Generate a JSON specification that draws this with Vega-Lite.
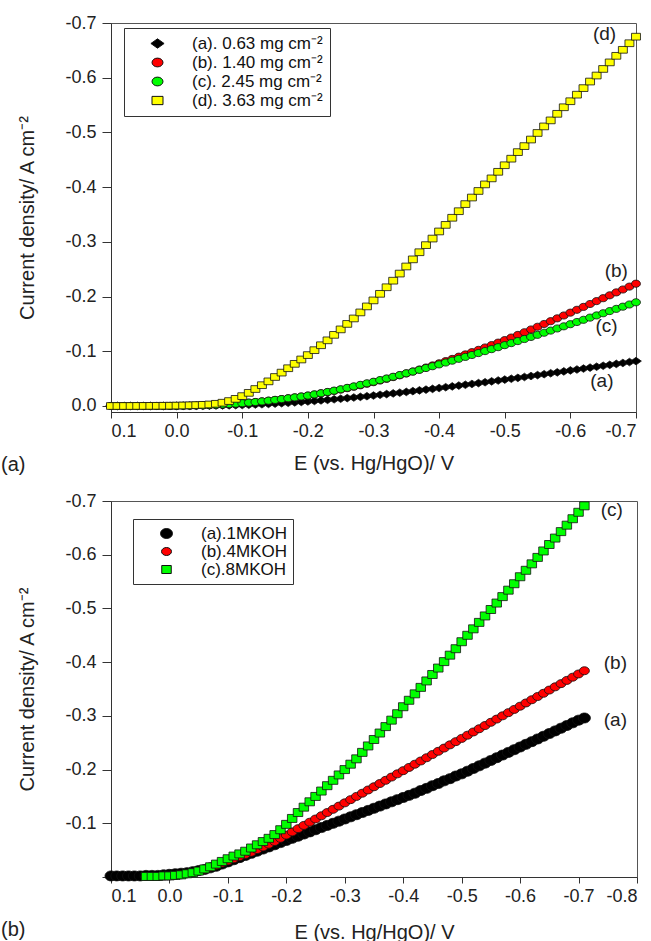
{
"$schema": "https://vega.github.io/schema/vega-lite/v6.json",
"background": "white",
"padding": {"left": 0, "top": 13, "right": 5, "bottom": 0},
"spacing": 15,
"resolve": {"scale": {"color": "independent", "shape": "independent"}, "legend": {"color": "independent", "shape": "independent"}},
"config": {
  "font": "Liberation Sans",
  "view": {"stroke": "#555", "strokeWidth": 1},
  "axis": {"labelFont": "Liberation Sans", "labelFontSize": 18, "labelColor": "#222", "titleFont": "Liberation Sans", "titleFontSize": 20, "titleFontWeight": "normal", "titleColor": "#222", "domainColor": "#333", "tickColor": "#333", "grid": false},
  "legend": {"labelFont": "Liberation Sans", "labelFontSize": 17, "labelColor": "#111"},
  "title": {"font": "Liberation Sans", "fontSize": 20, "fontWeight": "normal", "color": "#222"}
},
"datasets": {
"A": [
{"E":0.1,"j":0,"s":"a"},{"E":0.09,"j":0,"s":"a"},{"E":0.08,"j":0,"s":"a"},{"E":0.07,"j":0,"s":"a"},{"E":0.06,"j":0,"s":"a"},{"E":0.05,"j":0,"s":"a"},{"E":0.04,"j":0,"s":"a"},{"E":0.03,"j":0,"s":"a"},{"E":0.02,"j":0,"s":"a"},{"E":0.01,"j":0,"s":"a"},{"E":0,"j":0,"s":"a"},
{"E":-0.01,"j":-0.0002,"s":"a"},{"E":-0.02,"j":-0.0003,"s":"a"},{"E":-0.03,"j":-0.0004,"s":"a"},{"E":-0.04,"j":-0.0005,"s":"a"},{"E":-0.05,"j":-0.0006,"s":"a"},{"E":-0.06,"j":-0.0008,"s":"a"},{"E":-0.07,"j":-0.001,"s":"a"},{"E":-0.08,"j":-0.0012,"s":"a"},{"E":-0.09,"j":-0.0015,"s":"a"},{"E":-0.1,"j":-0.0018,"s":"a"},
{"E":-0.11,"j":-0.0022,"s":"a"},{"E":-0.12,"j":-0.0027,"s":"a"},{"E":-0.13,"j":-0.0032,"s":"a"},{"E":-0.14,"j":-0.0038,"s":"a"},{"E":-0.15,"j":-0.0044,"s":"a"},{"E":-0.16,"j":-0.0051,"s":"a"},{"E":-0.17,"j":-0.0058,"s":"a"},{"E":-0.18,"j":-0.0066,"s":"a"},{"E":-0.19,"j":-0.0074,"s":"a"},{"E":-0.2,"j":-0.0083,"s":"a"},
{"E":-0.21,"j":-0.0092,"s":"a"},{"E":-0.22,"j":-0.0102,"s":"a"},{"E":-0.23,"j":-0.0112,"s":"a"},{"E":-0.24,"j":-0.0122,"s":"a"},{"E":-0.25,"j":-0.0133,"s":"a"},{"E":-0.26,"j":-0.0144,"s":"a"},{"E":-0.27,"j":-0.0155,"s":"a"},{"E":-0.28,"j":-0.0167,"s":"a"},{"E":-0.29,"j":-0.0179,"s":"a"},{"E":-0.3,"j":-0.0191,"s":"a"},
{"E":-0.31,"j":-0.0204,"s":"a"},{"E":-0.32,"j":-0.0217,"s":"a"},{"E":-0.33,"j":-0.023,"s":"a"},{"E":-0.34,"j":-0.0243,"s":"a"},{"E":-0.35,"j":-0.0257,"s":"a"},{"E":-0.36,"j":-0.0271,"s":"a"},{"E":-0.37,"j":-0.0285,"s":"a"},{"E":-0.38,"j":-0.0299,"s":"a"},{"E":-0.39,"j":-0.0313,"s":"a"},{"E":-0.4,"j":-0.0328,"s":"a"},
{"E":-0.41,"j":-0.0343,"s":"a"},{"E":-0.42,"j":-0.0358,"s":"a"},{"E":-0.43,"j":-0.0373,"s":"a"},{"E":-0.44,"j":-0.0388,"s":"a"},{"E":-0.45,"j":-0.0403,"s":"a"},{"E":-0.46,"j":-0.0418,"s":"a"},{"E":-0.47,"j":-0.0434,"s":"a"},{"E":-0.48,"j":-0.045,"s":"a"},{"E":-0.49,"j":-0.0466,"s":"a"},{"E":-0.5,"j":-0.0482,"s":"a"},
{"E":-0.51,"j":-0.0498,"s":"a"},{"E":-0.52,"j":-0.0514,"s":"a"},{"E":-0.53,"j":-0.053,"s":"a"},{"E":-0.54,"j":-0.0547,"s":"a"},{"E":-0.55,"j":-0.0564,"s":"a"},{"E":-0.56,"j":-0.0581,"s":"a"},{"E":-0.57,"j":-0.0598,"s":"a"},{"E":-0.58,"j":-0.0615,"s":"a"},{"E":-0.59,"j":-0.0632,"s":"a"},{"E":-0.6,"j":-0.065,"s":"a"},
{"E":-0.61,"j":-0.0667,"s":"a"},{"E":-0.62,"j":-0.0684,"s":"a"},{"E":-0.63,"j":-0.0701,"s":"a"},{"E":-0.64,"j":-0.0718,"s":"a"},{"E":-0.65,"j":-0.0735,"s":"a"},{"E":-0.66,"j":-0.0752,"s":"a"},{"E":-0.67,"j":-0.0769,"s":"a"},{"E":-0.68,"j":-0.0786,"s":"a"},{"E":-0.69,"j":-0.0803,"s":"a"},{"E":-0.7,"j":-0.082,"s":"a"},

{"E":0.1,"j":0,"s":"b"},{"E":0.09,"j":0,"s":"b"},{"E":0.08,"j":0,"s":"b"},{"E":0.07,"j":0,"s":"b"},{"E":0.06,"j":0,"s":"b"},{"E":0.05,"j":0,"s":"b"},{"E":0.04,"j":0,"s":"b"},{"E":0.03,"j":0,"s":"b"},{"E":0.02,"j":0,"s":"b"},{"E":0.01,"j":-0.0001,"s":"b"},{"E":0,"j":-0.0002,"s":"b"},
{"E":-0.01,"j":-0.0004,"s":"b"},{"E":-0.02,"j":-0.0006,"s":"b"},{"E":-0.03,"j":-0.0009,"s":"b"},{"E":-0.04,"j":-0.0012,"s":"b"},{"E":-0.05,"j":-0.0016,"s":"b"},{"E":-0.06,"j":-0.0021,"s":"b"},{"E":-0.07,"j":-0.0027,"s":"b"},{"E":-0.08,"j":-0.0034,"s":"b"},{"E":-0.09,"j":-0.0042,"s":"b"},{"E":-0.1,"j":-0.0051,"s":"b"},
{"E":-0.11,"j":-0.0061,"s":"b"},{"E":-0.12,"j":-0.0072,"s":"b"},{"E":-0.13,"j":-0.0084,"s":"b"},{"E":-0.14,"j":-0.0097,"s":"b"},{"E":-0.15,"j":-0.0111,"s":"b"},{"E":-0.16,"j":-0.0126,"s":"b"},{"E":-0.17,"j":-0.0141,"s":"b"},{"E":-0.18,"j":-0.0157,"s":"b"},{"E":-0.19,"j":-0.0173,"s":"b"},{"E":-0.2,"j":-0.019,"s":"b"},
{"E":-0.21,"j":-0.021,"s":"b"},{"E":-0.22,"j":-0.0231,"s":"b"},{"E":-0.23,"j":-0.0253,"s":"b"},{"E":-0.24,"j":-0.0276,"s":"b"},{"E":-0.25,"j":-0.03,"s":"b"},{"E":-0.26,"j":-0.0325,"s":"b"},{"E":-0.27,"j":-0.0351,"s":"b"},{"E":-0.28,"j":-0.0378,"s":"b"},{"E":-0.29,"j":-0.0406,"s":"b"},{"E":-0.3,"j":-0.0435,"s":"b"},
{"E":-0.31,"j":-0.0465,"s":"b"},{"E":-0.32,"j":-0.0496,"s":"b"},{"E":-0.33,"j":-0.0528,"s":"b"},{"E":-0.34,"j":-0.0561,"s":"b"},{"E":-0.35,"j":-0.0595,"s":"b"},{"E":-0.36,"j":-0.063,"s":"b"},{"E":-0.37,"j":-0.0666,"s":"b"},{"E":-0.38,"j":-0.0703,"s":"b"},{"E":-0.39,"j":-0.0741,"s":"b"},{"E":-0.4,"j":-0.078,"s":"b"},
{"E":-0.41,"j":-0.082,"s":"b"},{"E":-0.42,"j":-0.086,"s":"b"},{"E":-0.43,"j":-0.0901,"s":"b"},{"E":-0.44,"j":-0.0942,"s":"b"},{"E":-0.45,"j":-0.0984,"s":"b"},{"E":-0.46,"j":-0.1026,"s":"b"},{"E":-0.47,"j":-0.1069,"s":"b"},{"E":-0.48,"j":-0.1113,"s":"b"},{"E":-0.49,"j":-0.1158,"s":"b"},{"E":-0.5,"j":-0.1204,"s":"b"},
{"E":-0.51,"j":-0.1251,"s":"b"},{"E":-0.52,"j":-0.1299,"s":"b"},{"E":-0.53,"j":-0.1348,"s":"b"},{"E":-0.54,"j":-0.1398,"s":"b"},{"E":-0.55,"j":-0.1448,"s":"b"},{"E":-0.56,"j":-0.1499,"s":"b"},{"E":-0.57,"j":-0.155,"s":"b"},{"E":-0.58,"j":-0.1602,"s":"b"},{"E":-0.59,"j":-0.1654,"s":"b"},{"E":-0.6,"j":-0.1706,"s":"b"},
{"E":-0.61,"j":-0.1758,"s":"b"},{"E":-0.62,"j":-0.1811,"s":"b"},{"E":-0.63,"j":-0.1864,"s":"b"},{"E":-0.64,"j":-0.1917,"s":"b"},{"E":-0.65,"j":-0.197,"s":"b"},{"E":-0.66,"j":-0.2023,"s":"b"},{"E":-0.67,"j":-0.2076,"s":"b"},{"E":-0.68,"j":-0.2129,"s":"b"},{"E":-0.69,"j":-0.2182,"s":"b"},{"E":-0.7,"j":-0.2235,"s":"b"},

{"E":0.1,"j":0,"s":"c"},{"E":0.09,"j":0,"s":"c"},{"E":0.08,"j":0,"s":"c"},{"E":0.07,"j":0,"s":"c"},{"E":0.06,"j":0,"s":"c"},{"E":0.05,"j":0,"s":"c"},{"E":0.04,"j":0,"s":"c"},{"E":0.03,"j":0,"s":"c"},{"E":0.02,"j":0,"s":"c"},{"E":0.01,"j":-0.0001,"s":"c"},{"E":0,"j":-0.0002,"s":"c"},
{"E":-0.01,"j":-0.0004,"s":"c"},{"E":-0.02,"j":-0.0006,"s":"c"},{"E":-0.03,"j":-0.0009,"s":"c"},{"E":-0.04,"j":-0.0012,"s":"c"},{"E":-0.05,"j":-0.0016,"s":"c"},{"E":-0.06,"j":-0.0021,"s":"c"},{"E":-0.07,"j":-0.0027,"s":"c"},{"E":-0.08,"j":-0.0034,"s":"c"},{"E":-0.09,"j":-0.0042,"s":"c"},{"E":-0.1,"j":-0.0051,"s":"c"},
{"E":-0.11,"j":-0.0061,"s":"c"},{"E":-0.12,"j":-0.0072,"s":"c"},{"E":-0.13,"j":-0.0084,"s":"c"},{"E":-0.14,"j":-0.0097,"s":"c"},{"E":-0.15,"j":-0.0111,"s":"c"},{"E":-0.16,"j":-0.0126,"s":"c"},{"E":-0.17,"j":-0.0141,"s":"c"},{"E":-0.18,"j":-0.0157,"s":"c"},{"E":-0.19,"j":-0.0173,"s":"c"},{"E":-0.2,"j":-0.019,"s":"c"},
{"E":-0.21,"j":-0.0211,"s":"c"},{"E":-0.22,"j":-0.0233,"s":"c"},{"E":-0.23,"j":-0.0256,"s":"c"},{"E":-0.24,"j":-0.028,"s":"c"},{"E":-0.25,"j":-0.0305,"s":"c"},{"E":-0.26,"j":-0.0331,"s":"c"},{"E":-0.27,"j":-0.0358,"s":"c"},{"E":-0.28,"j":-0.0386,"s":"c"},{"E":-0.29,"j":-0.0414,"s":"c"},{"E":-0.3,"j":-0.0443,"s":"c"},
{"E":-0.31,"j":-0.0473,"s":"c"},{"E":-0.32,"j":-0.0503,"s":"c"},{"E":-0.33,"j":-0.0534,"s":"c"},{"E":-0.34,"j":-0.0565,"s":"c"},{"E":-0.35,"j":-0.0597,"s":"c"},{"E":-0.36,"j":-0.0629,"s":"c"},{"E":-0.37,"j":-0.0661,"s":"c"},{"E":-0.38,"j":-0.0694,"s":"c"},{"E":-0.39,"j":-0.0727,"s":"c"},{"E":-0.4,"j":-0.076,"s":"c"},
{"E":-0.41,"j":-0.0794,"s":"c"},{"E":-0.42,"j":-0.0828,"s":"c"},{"E":-0.43,"j":-0.0862,"s":"c"},{"E":-0.44,"j":-0.0897,"s":"c"},{"E":-0.45,"j":-0.0932,"s":"c"},{"E":-0.46,"j":-0.0967,"s":"c"},{"E":-0.47,"j":-0.1003,"s":"c"},{"E":-0.48,"j":-0.1039,"s":"c"},{"E":-0.49,"j":-0.1075,"s":"c"},{"E":-0.5,"j":-0.1112,"s":"c"},
{"E":-0.51,"j":-0.1149,"s":"c"},{"E":-0.52,"j":-0.1186,"s":"c"},{"E":-0.53,"j":-0.1224,"s":"c"},{"E":-0.54,"j":-0.1262,"s":"c"},{"E":-0.55,"j":-0.13,"s":"c"},{"E":-0.56,"j":-0.1339,"s":"c"},{"E":-0.57,"j":-0.1378,"s":"c"},{"E":-0.58,"j":-0.1417,"s":"c"},{"E":-0.59,"j":-0.1456,"s":"c"},{"E":-0.6,"j":-0.1495,"s":"c"},
{"E":-0.61,"j":-0.1535,"s":"c"},{"E":-0.62,"j":-0.1575,"s":"c"},{"E":-0.63,"j":-0.1615,"s":"c"},{"E":-0.64,"j":-0.1655,"s":"c"},{"E":-0.65,"j":-0.1695,"s":"c"},{"E":-0.66,"j":-0.1735,"s":"c"},{"E":-0.67,"j":-0.1775,"s":"c"},{"E":-0.68,"j":-0.1815,"s":"c"},{"E":-0.69,"j":-0.1855,"s":"c"},{"E":-0.7,"j":-0.1895,"s":"c"},

{"E":0.1,"j":0,"s":"d"},{"E":0.09,"j":0,"s":"d"},{"E":0.08,"j":0,"s":"d"},{"E":0.07,"j":0,"s":"d"},{"E":0.06,"j":-0.0001,"s":"d"},{"E":0.05,"j":-0.0001,"s":"d"},{"E":0.04,"j":-0.0002,"s":"d"},{"E":0.03,"j":-0.0003,"s":"d"},{"E":0.02,"j":-0.0004,"s":"d"},{"E":0.01,"j":-0.0005,"s":"d"},{"E":0,"j":-0.0007,"s":"d"},
{"E":-0.01,"j":-0.0009,"s":"d"},{"E":-0.02,"j":-0.0012,"s":"d"},{"E":-0.03,"j":-0.0016,"s":"d"},{"E":-0.04,"j":-0.0021,"s":"d"},{"E":-0.05,"j":-0.0028,"s":"d"},{"E":-0.06,"j":-0.004,"s":"d"},{"E":-0.07,"j":-0.006,"s":"d"},{"E":-0.08,"j":-0.009,"s":"d"},{"E":-0.09,"j":-0.013,"s":"d"},{"E":-0.1,"j":-0.018,"s":"d"},
{"E":-0.11,"j":-0.024,"s":"d"},{"E":-0.12,"j":-0.031,"s":"d"},{"E":-0.13,"j":-0.038,"s":"d"},{"E":-0.14,"j":-0.045,"s":"d"},{"E":-0.15,"j":-0.053,"s":"d"},{"E":-0.16,"j":-0.061,"s":"d"},{"E":-0.17,"j":-0.069,"s":"d"},{"E":-0.18,"j":-0.077,"s":"d"},{"E":-0.19,"j":-0.085,"s":"d"},{"E":-0.2,"j":-0.093,"s":"d"},
{"E":-0.21,"j":-0.102,"s":"d"},{"E":-0.22,"j":-0.111,"s":"d"},{"E":-0.23,"j":-0.12,"s":"d"},{"E":-0.24,"j":-0.13,"s":"d"},{"E":-0.25,"j":-0.14,"s":"d"},{"E":-0.26,"j":-0.15,"s":"d"},{"E":-0.27,"j":-0.16,"s":"d"},{"E":-0.28,"j":-0.171,"s":"d"},{"E":-0.29,"j":-0.182,"s":"d"},{"E":-0.3,"j":-0.193,"s":"d"},
{"E":-0.31,"j":-0.205,"s":"d"},{"E":-0.32,"j":-0.217,"s":"d"},{"E":-0.33,"j":-0.229,"s":"d"},{"E":-0.34,"j":-0.242,"s":"d"},{"E":-0.35,"j":-0.255,"s":"d"},{"E":-0.36,"j":-0.268,"s":"d"},{"E":-0.37,"j":-0.281,"s":"d"},{"E":-0.38,"j":-0.294,"s":"d"},{"E":-0.39,"j":-0.306,"s":"d"},{"E":-0.4,"j":-0.319,"s":"d"},
{"E":-0.41,"j":-0.331,"s":"d"},{"E":-0.42,"j":-0.344,"s":"d"},{"E":-0.43,"j":-0.356,"s":"d"},{"E":-0.44,"j":-0.369,"s":"d"},{"E":-0.45,"j":-0.381,"s":"d"},{"E":-0.46,"j":-0.393,"s":"d"},{"E":-0.47,"j":-0.405,"s":"d"},{"E":-0.48,"j":-0.416,"s":"d"},{"E":-0.49,"j":-0.428,"s":"d"},{"E":-0.5,"j":-0.44,"s":"d"},
{"E":-0.51,"j":-0.452,"s":"d"},{"E":-0.52,"j":-0.464,"s":"d"},{"E":-0.53,"j":-0.475,"s":"d"},{"E":-0.54,"j":-0.487,"s":"d"},{"E":-0.55,"j":-0.499,"s":"d"},{"E":-0.56,"j":-0.511,"s":"d"},{"E":-0.57,"j":-0.522,"s":"d"},{"E":-0.58,"j":-0.534,"s":"d"},{"E":-0.59,"j":-0.546,"s":"d"},{"E":-0.6,"j":-0.557,"s":"d"},
{"E":-0.61,"j":-0.569,"s":"d"},{"E":-0.62,"j":-0.581,"s":"d"},{"E":-0.63,"j":-0.593,"s":"d"},{"E":-0.64,"j":-0.604,"s":"d"},{"E":-0.65,"j":-0.616,"s":"d"},{"E":-0.66,"j":-0.628,"s":"d"},{"E":-0.67,"j":-0.64,"s":"d"},{"E":-0.68,"j":-0.651,"s":"d"},{"E":-0.69,"j":-0.663,"s":"d"},{"E":-0.7,"j":-0.675,"s":"d"}
],
"B": [
{"E":0.1,"j":-0.002,"s":"a"},{"E":0.09,"j":-0.002,"s":"a"},{"E":0.08,"j":-0.002,"s":"a"},{"E":0.07,"j":-0.002,"s":"a"},{"E":0.06,"j":-0.002,"s":"a"},{"E":0.05,"j":-0.002,"s":"a"},{"E":0.04,"j":-0.003,"s":"a"},{"E":0.03,"j":-0.003,"s":"a"},{"E":0.02,"j":-0.003,"s":"a"},{"E":0.01,"j":-0.004,"s":"a"},{"E":0,"j":-0.005,"s":"a"},
{"E":-0.01,"j":-0.006,"s":"a"},{"E":-0.02,"j":-0.007,"s":"a"},{"E":-0.03,"j":-0.008,"s":"a"},{"E":-0.04,"j":-0.01,"s":"a"},{"E":-0.05,"j":-0.012,"s":"a"},{"E":-0.06,"j":-0.014,"s":"a"},{"E":-0.07,"j":-0.017,"s":"a"},{"E":-0.08,"j":-0.02,"s":"a"},{"E":-0.09,"j":-0.024,"s":"a"},{"E":-0.1,"j":-0.028,"s":"a"},
{"E":-0.11,"j":-0.032,"s":"a"},{"E":-0.12,"j":-0.036,"s":"a"},{"E":-0.13,"j":-0.04,"s":"a"},{"E":-0.14,"j":-0.044,"s":"a"},{"E":-0.15,"j":-0.048,"s":"a"},{"E":-0.16,"j":-0.052,"s":"a"},{"E":-0.17,"j":-0.056,"s":"a"},{"E":-0.18,"j":-0.06,"s":"a"},{"E":-0.19,"j":-0.064,"s":"a"},{"E":-0.2,"j":-0.068,"s":"a"},
{"E":-0.21,"j":-0.072,"s":"a"},{"E":-0.22,"j":-0.076,"s":"a"},{"E":-0.23,"j":-0.08,"s":"a"},{"E":-0.24,"j":-0.084,"s":"a"},{"E":-0.25,"j":-0.088,"s":"a"},{"E":-0.26,"j":-0.092,"s":"a"},{"E":-0.27,"j":-0.096,"s":"a"},{"E":-0.28,"j":-0.1,"s":"a"},{"E":-0.29,"j":-0.104,"s":"a"},{"E":-0.3,"j":-0.108,"s":"a"},
{"E":-0.31,"j":-0.112,"s":"a"},{"E":-0.32,"j":-0.116,"s":"a"},{"E":-0.33,"j":-0.12,"s":"a"},{"E":-0.34,"j":-0.124,"s":"a"},{"E":-0.35,"j":-0.128,"s":"a"},{"E":-0.36,"j":-0.132,"s":"a"},{"E":-0.37,"j":-0.136,"s":"a"},{"E":-0.38,"j":-0.14,"s":"a"},{"E":-0.39,"j":-0.144,"s":"a"},{"E":-0.4,"j":-0.148,"s":"a"},
{"E":-0.41,"j":-0.152,"s":"a"},{"E":-0.42,"j":-0.156,"s":"a"},{"E":-0.43,"j":-0.161,"s":"a"},{"E":-0.44,"j":-0.165,"s":"a"},{"E":-0.45,"j":-0.17,"s":"a"},{"E":-0.46,"j":-0.174,"s":"a"},{"E":-0.47,"j":-0.179,"s":"a"},{"E":-0.48,"j":-0.183,"s":"a"},{"E":-0.49,"j":-0.188,"s":"a"},{"E":-0.5,"j":-0.192,"s":"a"},
{"E":-0.51,"j":-0.197,"s":"a"},{"E":-0.52,"j":-0.202,"s":"a"},{"E":-0.53,"j":-0.207,"s":"a"},{"E":-0.54,"j":-0.212,"s":"a"},{"E":-0.55,"j":-0.217,"s":"a"},{"E":-0.56,"j":-0.222,"s":"a"},{"E":-0.57,"j":-0.227,"s":"a"},{"E":-0.58,"j":-0.232,"s":"a"},{"E":-0.59,"j":-0.237,"s":"a"},{"E":-0.6,"j":-0.242,"s":"a"},
{"E":-0.61,"j":-0.247,"s":"a"},{"E":-0.62,"j":-0.252,"s":"a"},{"E":-0.63,"j":-0.257,"s":"a"},{"E":-0.64,"j":-0.262,"s":"a"},{"E":-0.65,"j":-0.267,"s":"a"},{"E":-0.66,"j":-0.272,"s":"a"},{"E":-0.67,"j":-0.277,"s":"a"},{"E":-0.68,"j":-0.282,"s":"a"},{"E":-0.69,"j":-0.287,"s":"a"},{"E":-0.7,"j":-0.292,"s":"a"},{"E":-0.71,"j":-0.296,"s":"a"},

{"E":0.04,"j":-0.001,"s":"b"},{"E":0.03,"j":-0.001,"s":"b"},{"E":0.02,"j":-0.001,"s":"b"},{"E":0.01,"j":-0.002,"s":"b"},{"E":0,"j":-0.002,"s":"b"},
{"E":-0.01,"j":-0.003,"s":"b"},{"E":-0.02,"j":-0.004,"s":"b"},{"E":-0.03,"j":-0.006,"s":"b"},{"E":-0.04,"j":-0.008,"s":"b"},{"E":-0.05,"j":-0.011,"s":"b"},{"E":-0.06,"j":-0.014,"s":"b"},{"E":-0.07,"j":-0.018,"s":"b"},{"E":-0.08,"j":-0.022,"s":"b"},{"E":-0.09,"j":-0.026,"s":"b"},{"E":-0.1,"j":-0.03,"s":"b"},
{"E":-0.11,"j":-0.034,"s":"b"},{"E":-0.12,"j":-0.038,"s":"b"},{"E":-0.13,"j":-0.042,"s":"b"},{"E":-0.14,"j":-0.046,"s":"b"},{"E":-0.15,"j":-0.051,"s":"b"},{"E":-0.16,"j":-0.056,"s":"b"},{"E":-0.17,"j":-0.061,"s":"b"},{"E":-0.18,"j":-0.066,"s":"b"},{"E":-0.19,"j":-0.072,"s":"b"},{"E":-0.2,"j":-0.078,"s":"b"},
{"E":-0.21,"j":-0.084,"s":"b"},{"E":-0.22,"j":-0.09,"s":"b"},{"E":-0.23,"j":-0.096,"s":"b"},{"E":-0.24,"j":-0.102,"s":"b"},{"E":-0.25,"j":-0.108,"s":"b"},{"E":-0.26,"j":-0.114,"s":"b"},{"E":-0.27,"j":-0.12,"s":"b"},{"E":-0.28,"j":-0.126,"s":"b"},{"E":-0.29,"j":-0.132,"s":"b"},{"E":-0.3,"j":-0.138,"s":"b"},
{"E":-0.31,"j":-0.144,"s":"b"},{"E":-0.32,"j":-0.15,"s":"b"},{"E":-0.33,"j":-0.156,"s":"b"},{"E":-0.34,"j":-0.162,"s":"b"},{"E":-0.35,"j":-0.168,"s":"b"},{"E":-0.36,"j":-0.174,"s":"b"},{"E":-0.37,"j":-0.18,"s":"b"},{"E":-0.38,"j":-0.186,"s":"b"},{"E":-0.39,"j":-0.192,"s":"b"},{"E":-0.4,"j":-0.198,"s":"b"},
{"E":-0.41,"j":-0.204,"s":"b"},{"E":-0.42,"j":-0.21,"s":"b"},{"E":-0.43,"j":-0.216,"s":"b"},{"E":-0.44,"j":-0.222,"s":"b"},{"E":-0.45,"j":-0.228,"s":"b"},{"E":-0.46,"j":-0.234,"s":"b"},{"E":-0.47,"j":-0.24,"s":"b"},{"E":-0.48,"j":-0.246,"s":"b"},{"E":-0.49,"j":-0.252,"s":"b"},{"E":-0.5,"j":-0.258,"s":"b"},
{"E":-0.51,"j":-0.264,"s":"b"},{"E":-0.52,"j":-0.27,"s":"b"},{"E":-0.53,"j":-0.276,"s":"b"},{"E":-0.54,"j":-0.282,"s":"b"},{"E":-0.55,"j":-0.288,"s":"b"},{"E":-0.56,"j":-0.294,"s":"b"},{"E":-0.57,"j":-0.3,"s":"b"},{"E":-0.58,"j":-0.306,"s":"b"},{"E":-0.59,"j":-0.312,"s":"b"},{"E":-0.6,"j":-0.318,"s":"b"},
{"E":-0.61,"j":-0.324,"s":"b"},{"E":-0.62,"j":-0.33,"s":"b"},{"E":-0.63,"j":-0.336,"s":"b"},{"E":-0.64,"j":-0.342,"s":"b"},{"E":-0.65,"j":-0.348,"s":"b"},{"E":-0.66,"j":-0.354,"s":"b"},{"E":-0.67,"j":-0.36,"s":"b"},{"E":-0.68,"j":-0.366,"s":"b"},{"E":-0.69,"j":-0.372,"s":"b"},{"E":-0.7,"j":-0.378,"s":"b"},{"E":-0.71,"j":-0.384,"s":"b"},

{"E":0.04,"j":-0.001,"s":"c"},{"E":0.03,"j":-0.001,"s":"c"},{"E":0.02,"j":-0.001,"s":"c"},{"E":0.01,"j":-0.002,"s":"c"},{"E":0,"j":-0.002,"s":"c"},
{"E":-0.01,"j":-0.003,"s":"c"},{"E":-0.02,"j":-0.004,"s":"c"},{"E":-0.03,"j":-0.006,"s":"c"},{"E":-0.04,"j":-0.008,"s":"c"},{"E":-0.05,"j":-0.011,"s":"c"},{"E":-0.06,"j":-0.015,"s":"c"},{"E":-0.07,"j":-0.019,"s":"c"},{"E":-0.08,"j":-0.024,"s":"c"},{"E":-0.09,"j":-0.029,"s":"c"},{"E":-0.1,"j":-0.034,"s":"c"},
{"E":-0.11,"j":-0.039,"s":"c"},{"E":-0.12,"j":-0.043,"s":"c"},{"E":-0.13,"j":-0.048,"s":"c"},{"E":-0.14,"j":-0.054,"s":"c"},{"E":-0.15,"j":-0.06,"s":"c"},{"E":-0.16,"j":-0.066,"s":"c"},{"E":-0.17,"j":-0.072,"s":"c"},{"E":-0.18,"j":-0.079,"s":"c"},{"E":-0.19,"j":-0.088,"s":"c"},{"E":-0.2,"j":-0.098,"s":"c"},
{"E":-0.21,"j":-0.109,"s":"c"},{"E":-0.22,"j":-0.12,"s":"c"},{"E":-0.23,"j":-0.13,"s":"c"},{"E":-0.24,"j":-0.14,"s":"c"},{"E":-0.25,"j":-0.15,"s":"c"},{"E":-0.26,"j":-0.16,"s":"c"},{"E":-0.27,"j":-0.17,"s":"c"},{"E":-0.28,"j":-0.18,"s":"c"},{"E":-0.29,"j":-0.19,"s":"c"},{"E":-0.3,"j":-0.2,"s":"c"},
{"E":-0.31,"j":-0.21,"s":"c"},{"E":-0.32,"j":-0.22,"s":"c"},{"E":-0.33,"j":-0.232,"s":"c"},{"E":-0.34,"j":-0.244,"s":"c"},{"E":-0.35,"j":-0.256,"s":"c"},{"E":-0.36,"j":-0.268,"s":"c"},{"E":-0.37,"j":-0.28,"s":"c"},{"E":-0.38,"j":-0.292,"s":"c"},{"E":-0.39,"j":-0.304,"s":"c"},{"E":-0.4,"j":-0.317,"s":"c"},
{"E":-0.41,"j":-0.329,"s":"c"},{"E":-0.42,"j":-0.341,"s":"c"},{"E":-0.43,"j":-0.353,"s":"c"},{"E":-0.44,"j":-0.365,"s":"c"},{"E":-0.45,"j":-0.377,"s":"c"},{"E":-0.46,"j":-0.389,"s":"c"},{"E":-0.47,"j":-0.401,"s":"c"},{"E":-0.48,"j":-0.413,"s":"c"},{"E":-0.49,"j":-0.425,"s":"c"},{"E":-0.5,"j":-0.438,"s":"c"},
{"E":-0.51,"j":-0.45,"s":"c"},{"E":-0.52,"j":-0.462,"s":"c"},{"E":-0.53,"j":-0.474,"s":"c"},{"E":-0.54,"j":-0.486,"s":"c"},{"E":-0.55,"j":-0.498,"s":"c"},{"E":-0.56,"j":-0.51,"s":"c"},{"E":-0.57,"j":-0.522,"s":"c"},{"E":-0.58,"j":-0.534,"s":"c"},{"E":-0.59,"j":-0.546,"s":"c"},{"E":-0.6,"j":-0.559,"s":"c"},
{"E":-0.61,"j":-0.571,"s":"c"},{"E":-0.62,"j":-0.583,"s":"c"},{"E":-0.63,"j":-0.595,"s":"c"},{"E":-0.64,"j":-0.607,"s":"c"},{"E":-0.65,"j":-0.619,"s":"c"},{"E":-0.66,"j":-0.631,"s":"c"},{"E":-0.67,"j":-0.643,"s":"c"},{"E":-0.68,"j":-0.655,"s":"c"},{"E":-0.69,"j":-0.667,"s":"c"},{"E":-0.7,"j":-0.679,"s":"c"},{"E":-0.71,"j":-0.691,"s":"c"}
],
"labA": [
{"E":-0.652,"j":-0.68,"t":"(d)"},{"E":-0.67,"j":-0.247,"t":"(b)"},{"E":-0.655,"j":-0.146,"t":"(c)"},{"E":-0.648,"j":-0.046,"t":"(a)"}
],
"labB": [
{"E":-0.757,"j":-0.683,"t":"(c)"},{"E":-0.763,"j":-0.398,"t":"(b)"},{"E":-0.763,"j":-0.292,"t":"(a)"}
]
},
"vconcat": [
{
  "width": 525, "height": 389,
  "title": {"text": "(a)", "orient": "bottom", "anchor": "start", "frame": "bounds", "dx": -17, "dy": -18, "offset": 0},
  "layer": [
    {
      "data": {"name": "A"},
      "mark": {"type": "point", "filled": true, "opacity": 1, "stroke": "#111", "strokeWidth": 0.8, "size": 80},
      "encoding": {
        "x": {"field": "E", "type": "quantitative", "scale": {"domain": [0.1, -0.7], "nice": false, "zero": false},
              "axis": {"values": [0.1, 0, -0.1, -0.2, -0.3, -0.4, -0.5, -0.6, -0.7], "labelExpr": "replace(format(datum.value, '.1f'), '\u2212', '-')", "tickSize": 6, "labelPadding": 4, "titlePadding": 13, "title": "E (vs. Hg/HgO)/ V"}},
        "y": {"field": "j", "type": "quantitative", "scale": {"domain": [0.011, -0.7], "nice": false, "zero": false},
              "axis": {"values": [0, -0.1, -0.2, -0.3, -0.4, -0.5, -0.6, -0.7], "labelExpr": "replace(format(datum.value, '.1f'), '\u2212', '-')", "tickSize": 9, "labelPadding": 6, "titlePadding": 27, "title": "Current density/ A cm\u207b\u00b2"}},
        "color": {"field": "s", "type": "nominal",
                  "scale": {"domain": ["a", "b", "c", "d"], "range": ["#000000", "#ff0000", "#00ff00", "#ffff00"]},
                  "legend": {"orient": "none", "legendX": 13, "legendY": 5, "title": null, "direction": "vertical",
                             "labelExpr": "datum.value == 'a' ? '(a). 0.63 mg cm\u207b\u00b2' : datum.value == 'b' ? '(b). 1.40 mg cm\u207b\u00b2' : datum.value == 'c' ? '(c). 2.45 mg cm\u207b\u00b2' : '(d). 3.63 mg cm\u207b\u00b2'",
                             "strokeColor": "#333", "fillColor": "white", "padding": 7, "symbolOffset": 18, "labelOffset": 26, "rowPadding": 1,
                             "symbolSize": 121, "symbolStrokeColor": "#111", "symbolStrokeWidth": 1}},
        "shape": {"field": "s", "type": "nominal",
                  "scale": {"domain": ["a", "b", "c", "d"], "range": ["M-1.2,0L0,-0.85L1.2,0L0,0.85Z", "M-1,0A1,0.8,0,1,0,1,0A1,0.8,0,1,0,-1,0Z", "M-1,0A1,0.8,0,1,0,1,0A1,0.8,0,1,0,-1,0Z", "M-1,-0.75H1V0.75H-1Z"]}}
      }
    },
    {
      "data": {"name": "labA"},
      "mark": {"type": "text", "fontSize": 19, "color": "#222", "font": "Liberation Sans"},
      "encoding": {
        "x": {"field": "E", "type": "quantitative"},
        "y": {"field": "j", "type": "quantitative"},
        "text": {"field": "t"}
      }
    }
  ]
},
{
  "width": 526, "height": 376,
  "title": {"text": "(b)", "orient": "bottom", "anchor": "start", "frame": "bounds", "dx": -17, "dy": -22, "offset": 0},
  "layer": [
    {
      "data": {"name": "B"},
      "mark": {"type": "point", "filled": true, "opacity": 1, "stroke": "#111", "strokeWidth": 0.8, "size": 100},
      "encoding": {
        "x": {"field": "E", "type": "quantitative", "scale": {"domain": [0.1, -0.8], "nice": false, "zero": false},
              "axis": {"values": [0.1, 0, -0.1, -0.2, -0.3, -0.4, -0.5, -0.6, -0.7, -0.8], "labelExpr": "replace(format(datum.value, '.1f'), '\u2212', '-')", "tickSize": 6, "labelPadding": 4, "titlePadding": 17, "title": "E (vs. Hg/HgO)/ V"}},
        "y": {"field": "j", "type": "quantitative", "scale": {"domain": [0, -0.7], "nice": false, "zero": false},
              "axis": {"values": [0, -0.1, -0.2, -0.3, -0.4, -0.5, -0.6, -0.7], "labelExpr": "datum.value == 0 ? '' : replace(format(datum.value, '.1f'), '\u2212', '-')", "tickSize": 9, "labelPadding": 6, "titlePadding": 27, "title": "Current density/ A cm\u207b\u00b2"}},
        "color": {"field": "s", "type": "nominal",
                  "scale": {"domain": ["a", "b", "c"], "range": ["#000000", "#ff0000", "#00ff00"]},
                  "legend": {"orient": "none", "legendX": 22, "legendY": 18, "title": null, "direction": "vertical",
                             "labelExpr": "datum.value == 'a' ? '(a).1MKOH' : datum.value == 'b' ? '(b).4MKOH' : '(c).8MKOH'",
                             "strokeColor": "#333", "fillColor": "white", "padding": 6, "symbolOffset": 19, "labelOffset": 26, "rowPadding": 0, "labelFontSize": 17,
                             "symbolSize": 100, "symbolStrokeColor": "#111", "symbolStrokeWidth": 1}},
        "shape": {"field": "s", "type": "nominal",
                  "scale": {"domain": ["a", "b", "c"], "range": ["M-1.2,0A1.2,1,0,1,0,1.2,0A1.2,1,0,1,0,-1.2,0Z", "M-1,0A1,0.8,0,1,0,1,0A1,0.8,0,1,0,-1,0Z", "M-0.95,-0.8H0.95V0.8H-0.95Z"]}}
      }
    },
    {
      "data": {"name": "labB"},
      "mark": {"type": "text", "fontSize": 19, "color": "#222", "font": "Liberation Sans"},
      "encoding": {
        "x": {"field": "E", "type": "quantitative"},
        "y": {"field": "j", "type": "quantitative"},
        "text": {"field": "t"}
      }
    }
  ]
}
]
}
